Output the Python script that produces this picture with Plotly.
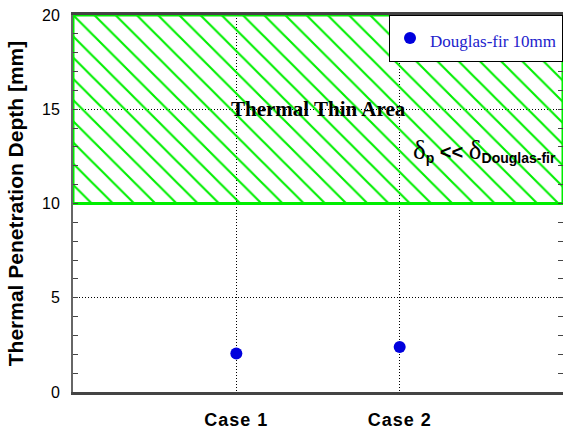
import plotly.graph_objects as go

# Thermal penetration depth per case (Douglas-fir, 10 mm)
cases = ["Case 1", "Case 2"]
case_pos = [1, 2]
depth_mm = [2.04, 2.39]

# Thermally thin region bounds [mm]
thin_lo, thin_hi = 10, 20
x_lo, x_hi = 0, 3

GREEN = "#00ee00"

fig = go.Figure()

# hatched "thermal thin" band
fig.add_trace(go.Scatter(
    x=[x_lo, x_hi, x_hi, x_lo, x_lo],
    y=[thin_lo, thin_lo, thin_hi, thin_hi, thin_lo],
    mode="lines",
    fill="toself",
    fillcolor="rgba(0,0,0,0)",
    fillpattern=dict(shape="\\", fgcolor=GREEN, fgopacity=1, bgcolor="rgba(0,0,0,0)",
                     size=15, solidity=0.14),
    line=dict(color=GREEN, width=3),
    showlegend=False, hoverinfo="skip",
))

fig.add_trace(go.Scatter(
    x=case_pos, y=depth_mm, mode="markers",
    marker=dict(color="#0000dd", size=12),
    name="<span style='font-size:17px'>Douglas-fir 10mm</span>",
))

fig.add_annotation(x=1.5, y=15, text="<b>Thermal Thin Area</b>", showarrow=False,
                   font=dict(family="Liberation Serif", size=21, color="black"))
fig.add_annotation(
    x=2.52, y=12.8, showarrow=False,
    text=("<span style='font-family:Liberation Serif;font-size:27px'>δ</span>"
          "<sub><b>p</b></sub>"
          "<b> &lt;&lt; </b>"
          "<span style='font-family:Liberation Serif;font-size:27px'>δ</span>"
          "<sub><b>Douglas-fir</b></sub>"),
    font=dict(family="Liberation Sans", size=20, color="black"),
)

DOT = "1px,2px"

fig.update_layout(
    width=563, height=430,
    margin=dict(l=73, r=0, t=15, b=38, autoexpand=False),
    paper_bgcolor="white", plot_bgcolor="white",
    showlegend=True,
    legend=dict(xref="container", x=1.0, y=1.0, xanchor="right", yanchor="top",
                bgcolor="white", bordercolor="black", borderwidth=1,
                itemwidth=30, tracegroupgap=0,
                font=dict(family="Liberation Serif", size=24, color="#2222cc")),
    xaxis=dict(range=[x_lo, x_hi], tickvals=case_pos,
               ticktext=[f"<span style='letter-spacing:1px'>{c}</span>" for c in cases],
               ticks="", ticklabelstandoff=10,
               tickfont=dict(family="Liberation Sans", size=18, color="black", weight="bold"),
               showgrid=True, gridcolor="black", griddash=DOT, gridwidth=1,
               showline=True, linecolor="#444", linewidth=2.5, mirror=True,
               zeroline=False),
    yaxis=dict(range=[0, 20], dtick=5, ticks="inside", ticklen=5, tickcolor="#444",
               tickfont=dict(family="Liberation Sans", size=16, color="black"),
               ticklabelstandoff=8,
               minor=dict(dtick=1, ticks="inside", ticklen=5, tickcolor="#444", showgrid=False),
               showgrid=True, gridcolor="black", griddash=DOT, gridwidth=1,
               showline=True, linecolor="#666", linewidth=2, mirror="allticks",
               zeroline=False,
               title=dict(text="<b>Thermal Penetration Depth [mm]</b>",
                          standoff=13,
                          font=dict(family="Liberation Sans", size=21, color="black"))),
)

fig.write_html("out.html")
